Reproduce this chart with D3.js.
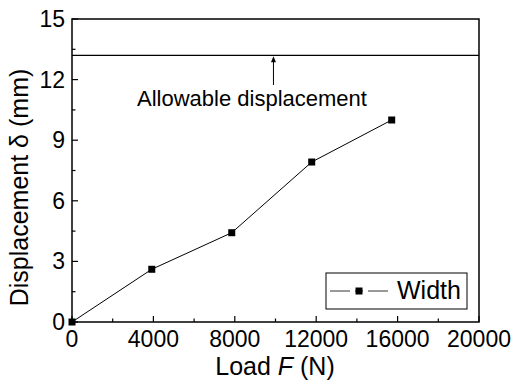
<!DOCTYPE html>
<html><head><meta charset="utf-8">
<script src="https://cdn.jsdelivr.net/npm/d3@7"></script>
<style>
html,body{margin:0;padding:0;background:#fff;}
text{font-family:"Liberation Sans",Arial,sans-serif;fill:#000;}
</style></head>
<body>
<svg id="c" width="516" height="385"></svg>
<script>
const loads = [0, 3920, 7850, 11780, 15710];
const displacement = [0, 2.61, 4.42, 7.92, 10.0];
const xTicks = [0, 4000, 8000, 12000, 16000, 20000];
const yTicks = [0, 3, 6, 9, 12, 15];
const allowable = 13.2;
const arrowLoad = 9900;
const seriesName = "Width";

const svg = d3.select("#c");
const L = 72, R = 479, T = 19, B = 322;
const x = d3.scaleLinear().domain([0, 20000]).range([L, R]);
const y = d3.scaleLinear().domain([0, 15]).range([B, T]);

// minor ticks
const xMinor = d3.range(2000, 20000, 4000);
const yMinor = d3.range(1.5, 15, 3);
const g = svg.append("g");
g.selectAll(".xmaj").data(xTicks).join("line")
  .attr("x1", d => x(d)).attr("x2", d => x(d)).attr("y1", B).attr("y2", B - 6)
  .attr("stroke", "#000").attr("stroke-width", 1.2);
g.selectAll(".xmin").data(xMinor).join("line")
  .attr("x1", d => x(d)).attr("x2", d => x(d)).attr("y1", B).attr("y2", B - 3.5)
  .attr("stroke", "#000").attr("stroke-width", 1.2);
g.selectAll(".ymaj").data(yTicks).join("line")
  .attr("y1", d => y(d)).attr("y2", d => y(d)).attr("x1", L).attr("x2", L + 6)
  .attr("stroke", "#000").attr("stroke-width", 1.2);
g.selectAll(".ymin").data(yMinor).join("line")
  .attr("y1", d => y(d)).attr("y2", d => y(d)).attr("x1", L).attr("x2", L + 3.5)
  .attr("stroke", "#000").attr("stroke-width", 1.2);

// tick labels
svg.selectAll(".xl").data(xTicks).join("text")
  .attr("x", d => x(d)).attr("y", 347).attr("text-anchor", "middle")
  .attr("font-size", 23).text(d => d);
svg.selectAll(".yl").data(yTicks).join("text")
  .attr("x", 65).attr("y", d => y(d) + 8).attr("text-anchor", "end")
  .attr("font-size", 23).text(d => d);

// frame
svg.append("rect").attr("x", L).attr("y", T).attr("width", R - L).attr("height", B - T)
  .attr("fill", "none").attr("stroke", "#000").attr("stroke-width", 1.5);

// allowable line
svg.append("line").attr("x1", L).attr("x2", R).attr("y1", y(allowable)).attr("y2", y(allowable))
  .attr("stroke", "#000").attr("stroke-width", 1.2);
// arrow
svg.append("line").attr("x1", x(arrowLoad)).attr("x2", x(arrowLoad))
  .attr("y1", 85).attr("y2", y(allowable) + 4).attr("stroke", "#000").attr("stroke-width", 1);
svg.append("path")
  .attr("d", `M${x(arrowLoad)},${y(allowable) + 1} l-2.5,6 l5,0 z`).attr("fill", "#000");
svg.append("text").attr("x", 137).attr("y", 106).attr("font-size", 22).text("Allowable displacement");

// data line
const pts = loads.map((v, i) => [v, displacement[i]]);
svg.append("path").datum(pts)
  .attr("d", d3.line().x(d => x(d[0])).y(d => y(d[1])))
  .attr("fill", "none").attr("stroke", "#000").attr("stroke-width", 1);
svg.selectAll(".m").data(pts).join("rect")
  .attr("x", d => x(d[0]) - 3.5).attr("y", d => y(d[1]) - 3.5)
  .attr("width", 7).attr("height", 7).attr("fill", "#000");

// legend
svg.append("rect").attr("x", 326).attr("y", 273).attr("width", 141).attr("height", 36)
  .attr("fill", "#fff").attr("stroke", "#000").attr("stroke-width", 1);
svg.append("line").attr("x1", 330).attr("x2", 388).attr("y1", 291).attr("y2", 291)
  .attr("stroke", "#333").attr("stroke-width", 1);
svg.append("rect").attr("x", 350).attr("y", 286).attr("width", 5).attr("height", 10).attr("fill", "#fff");
svg.append("rect").attr("x", 363).attr("y", 286).attr("width", 5).attr("height", 10).attr("fill", "#fff");
svg.append("rect").attr("x", 359 - 3.5).attr("y", 291 - 3.5).attr("width", 7).attr("height", 7).attr("fill", "#000");
svg.append("text").attr("x", 397).attr("y", 299).attr("font-size", 25).text(seriesName);

// axis titles
const xt = svg.append("text").attr("x", 275).attr("y", 375).attr("text-anchor", "middle").attr("font-size", 25);
xt.append("tspan").text("Load ");
xt.append("tspan").attr("font-style", "italic").text("F");
xt.append("tspan").text(" (N)");
svg.append("text").attr("transform", `translate(28,187.5) rotate(-90)`)
  .attr("text-anchor", "middle").attr("font-size", 25).text("Displacement δ (mm)");
</script>
</body></html>
